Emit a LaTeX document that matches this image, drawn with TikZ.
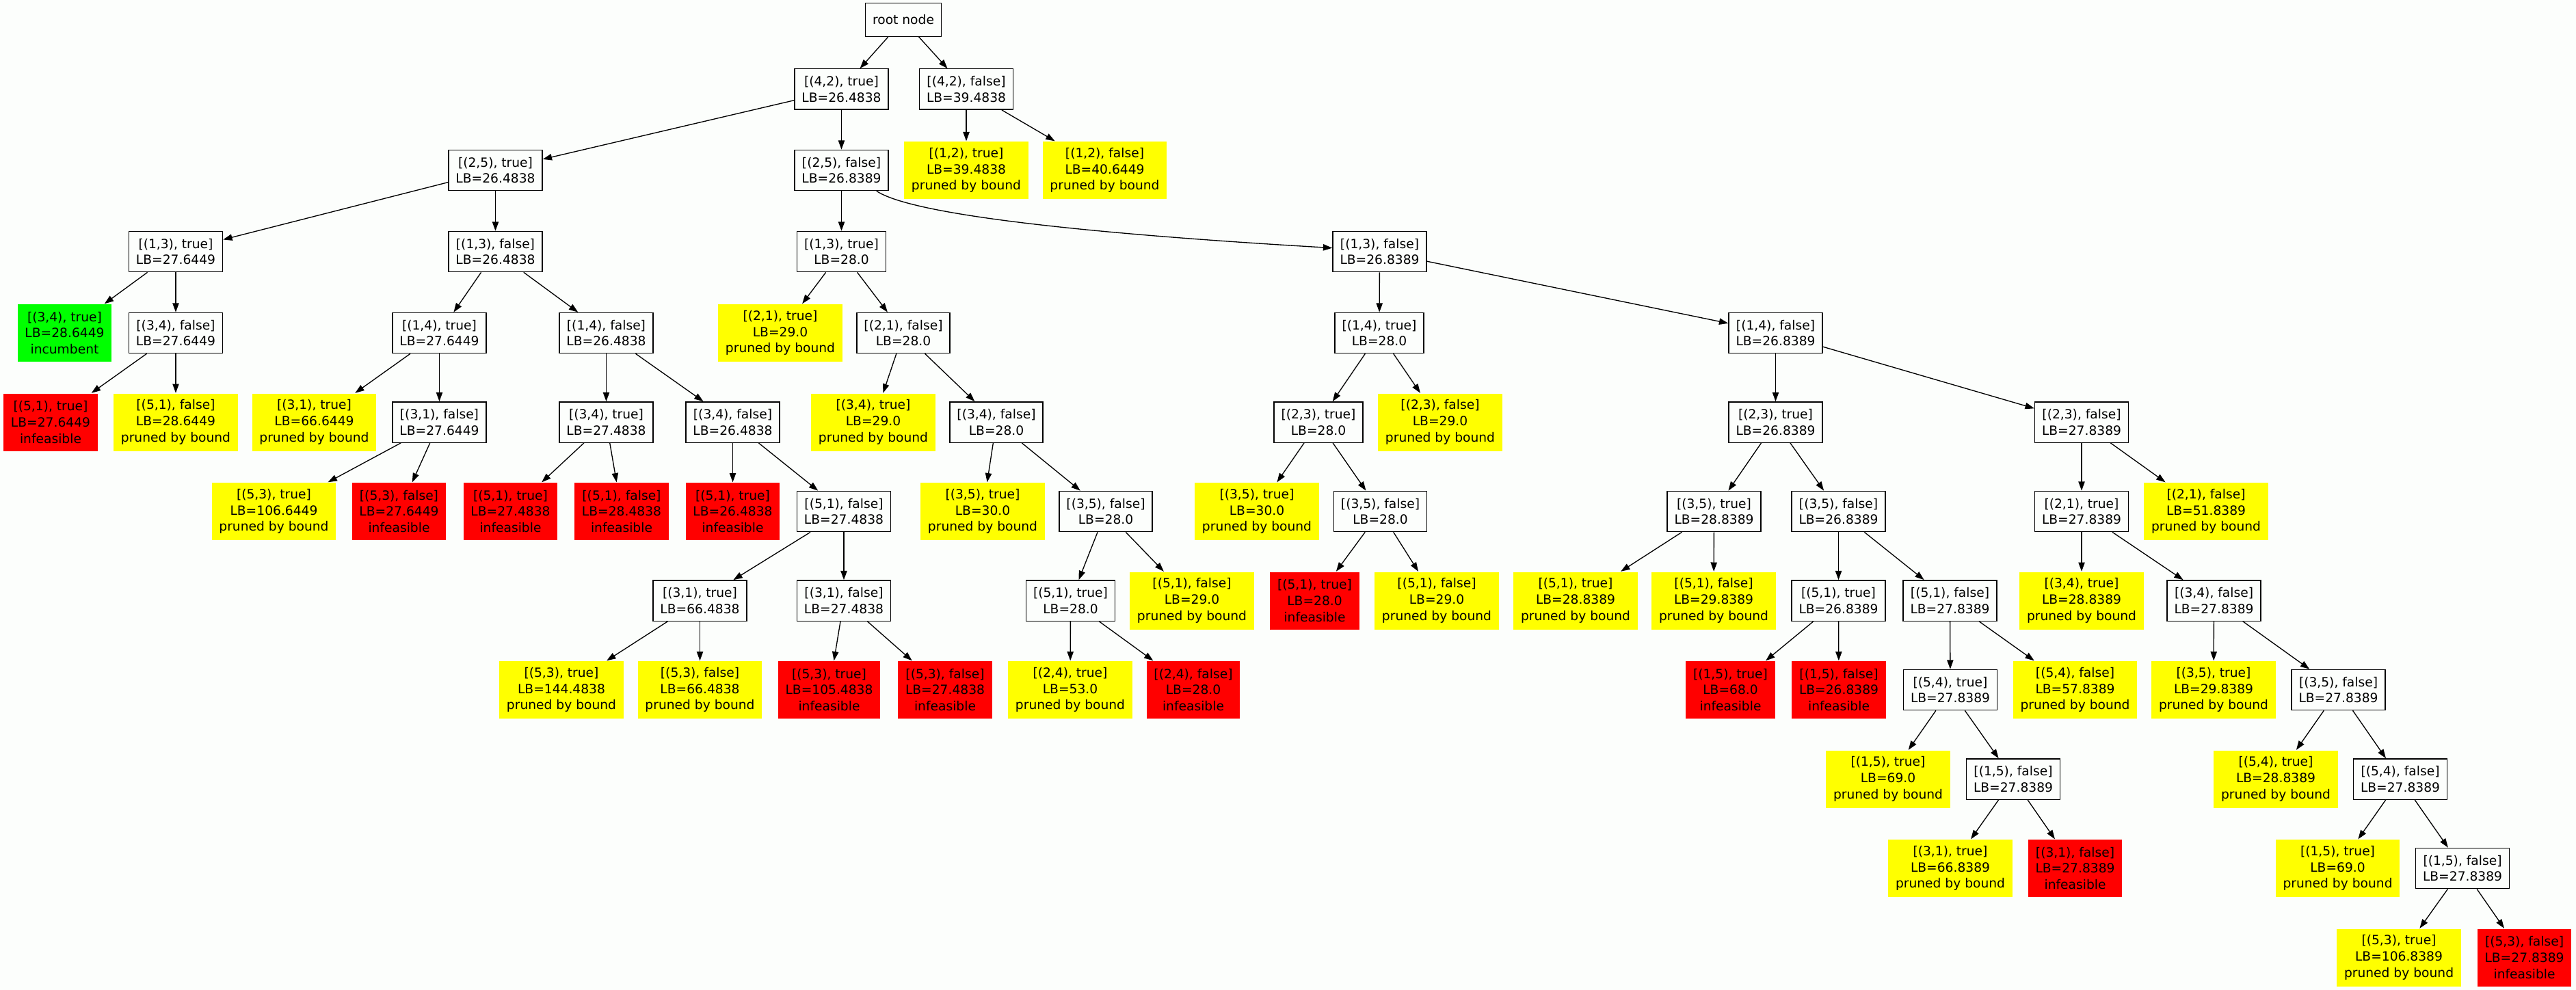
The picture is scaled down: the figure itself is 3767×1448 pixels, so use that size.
\documentclass[tikz,border=0pt]{standalone}
\usepackage{fontspec}
\setmainfont{DejaVu Sans}
\usetikzlibrary{arrows.meta}
\definecolor{paper}{RGB}{252,254,252}
\definecolor{boundcol}{RGB}{255,255,0}
\definecolor{infcol}{RGB}{255,0,0}
\definecolor{inccol}{RGB}{0,255,0}

\begin{document}
\begin{tikzpicture}[x=0.75pt,y=-0.75pt,line width=1pt,
    >={Triangle[length=10pt,width=7pt]},
    every node/.style={font=\fontsize{14}{17.8}\selectfont,align=center,
      inner xsep=7.92pt,inner ysep=2pt},
    root/.style={draw,minimum height=36.5pt},
    open/.style={draw,minimum height=44.5pt},
    leaf/.style={minimum height=63pt},
    pruned/.style={leaf,fill=boundcol},
    infeasible/.style={leaf,fill=infcol},
    incumbent/.style={leaf,fill=inccol}]
    \fill[paper] (0,0) rectangle (3767,1448);
    \useasboundingbox (0,0) rectangle (3767,1448);

    % row 0 to 3
    \node[root] (n_0)             at (1321,29)      {root node};
    \node[open] (n_1)             at (1230.5,130.5) {[(4,2), true]\\LB=26.4838};
    \node[open] (n_2)             at (1413,130.5)   {[(4,2), false]\\LB=39.4838};
    \node[open] (n_3)             at (724.5,249)    {[(2,5), true]\\LB=26.4838};
    \node[open] (n_4)             at (1230.5,249)   {[(2,5), false]\\LB=26.8389};
    \node[pruned] (n_5)           at (1413,249)     {[(1,2), true]\\LB=39.4838\\pruned by bound};
    \node[pruned] (n_6)           at (1615.5,249)   {[(1,2), false]\\LB=40.6449\\pruned by bound};
    \node[open] (n_7)             at (257,368)      {[(1,3), true]\\LB=27.6449};
    \node[open] (n_8)             at (724.5,368)    {[(1,3), false]\\LB=26.4838};
    \node[open] (n_9)             at (1230.5,368)   {[(1,3), true]\\LB=28.0};
    \node[open] (n_10)            at (2017.5,368)   {[(1,3), false]\\LB=26.8389};
    % row 4
    \node[incumbent] (n_11)       at (94.5,487)     {[(3,4), true]\\LB=28.6449\\incumbent};
    \node[open] (n_12)            at (257,487)      {[(3,4), false]\\LB=27.6449};
    \node[open] (n_13)            at (642.5,487)    {[(1,4), true]\\LB=27.6449};
    \node[open] (n_14)            at (886.5,487)    {[(1,4), false]\\LB=26.4838};
    \node[pruned] (n_15)          at (1141,487)     {[(2,1), true]\\LB=29.0\\pruned by bound};
    \node[open] (n_16)            at (1321,487)     {[(2,1), false]\\LB=28.0};
    \node[open] (n_17)            at (2017,487)     {[(1,4), true]\\LB=28.0};
    \node[open] (n_18)            at (2596.5,487)   {[(1,4), false]\\LB=26.8389};
    % row 5
    \node[infeasible] (n_19)      at (74,617.5)     {[(5,1), true]\\LB=27.6449\\infeasible};
    \node[pruned] (n_20)          at (257,617.5)    {[(5,1), false]\\LB=28.6449\\pruned by bound};
    \node[pruned] (n_21)          at (459.5,617.5)  {[(3,1), true]\\LB=66.6449\\pruned by bound};
    \node[open] (n_22)            at (642.5,617.5)  {[(3,1), false]\\LB=27.6449};
    \node[open] (n_23)            at (886.5,617.5)  {[(3,4), true]\\LB=27.4838};
    \node[open] (n_24)            at (1071.5,617.5) {[(3,4), false]\\LB=26.4838};
    \node[pruned] (n_25)          at (1277,617.5)   {[(3,4), true]\\LB=29.0\\pruned by bound};
    \node[open] (n_26)            at (1457,617.5)   {[(3,4), false]\\LB=28.0};
    \node[open] (n_27)            at (1928,617.5)   {[(2,3), true]\\LB=28.0};
    \node[pruned] (n_28)          at (2106,617.5)   {[(2,3), false]\\LB=29.0\\pruned by bound};
    \node[open] (n_29)            at (2596.5,617.5) {[(2,3), true]\\LB=26.8389};
    \node[open] (n_30)            at (3044,617.5)   {[(2,3), false]\\LB=27.8389};
    % row 6
    \node[pruned] (n_31)          at (400.5,748)    {[(5,3), true]\\LB=106.6449\\pruned by bound};
    \node[infeasible] (n_32)      at (583.5,748)    {[(5,3), false]\\LB=27.6449\\infeasible};
    \node[infeasible] (n_33)      at (746.5,748)    {[(5,1), true]\\LB=27.4838\\infeasible};
    \node[infeasible] (n_34)      at (909,748)      {[(5,1), false]\\LB=28.4838\\infeasible};
    \node[infeasible] (n_35)      at (1071.5,748)   {[(5,1), true]\\LB=26.4838\\infeasible};
    \node[open] (n_36)            at (1234,748)     {[(5,1), false]\\LB=27.4838};
    \node[pruned] (n_37)          at (1437,748)     {[(3,5), true]\\LB=30.0\\pruned by bound};
    \node[open] (n_38)            at (1617,748)     {[(3,5), false]\\LB=28.0};
    \node[pruned] (n_39)          at (1838,748)     {[(3,5), true]\\LB=30.0\\pruned by bound};
    \node[open] (n_40)            at (2018.5,748)   {[(3,5), false]\\LB=28.0};
    \node[open] (n_41)            at (2506.5,748)   {[(3,5), true]\\LB=28.8389};
    \node[open] (n_42)            at (2688.5,748)   {[(3,5), false]\\LB=26.8389};
    \node[open] (n_43)            at (3044,748)     {[(2,1), true]\\LB=27.8389};
    \node[pruned] (n_44)          at (3226,748)     {[(2,1), false]\\LB=51.8389\\pruned by bound};
    % row 7
    \node[open] (n_45)            at (1023.5,878.5) {[(3,1), true]\\LB=66.4838};
    \node[open] (n_46)            at (1234,878.5)   {[(3,1), false]\\LB=27.4838};
    \node[open] (n_47)            at (1565.5,878.5) {[(5,1), true]\\LB=28.0};
    \node[pruned] (n_48)          at (1743,878.5)   {[(5,1), false]\\LB=29.0\\pruned by bound};
    \node[infeasible] (n_49)      at (1922.5,878.5) {[(5,1), true]\\LB=28.0\\infeasible};
    \node[pruned] (n_50)          at (2101,878.5)   {[(5,1), false]\\LB=29.0\\pruned by bound};
    \node[pruned] (n_51)          at (2304,878.5)   {[(5,1), true]\\LB=28.8389\\pruned by bound};
    \node[pruned] (n_52)          at (2506,878.5)   {[(5,1), false]\\LB=29.8389\\pruned by bound};
    \node[open] (n_53)            at (2688.5,878.5) {[(5,1), true]\\LB=26.8389};
    \node[open] (n_54)            at (2851.5,878.5) {[(5,1), false]\\LB=27.8389};
    \node[pruned] (n_55)          at (3044,878.5)   {[(3,4), true]\\LB=28.8389\\pruned by bound};
    \node[open] (n_56)            at (3237.5,878.5) {[(3,4), false]\\LB=27.8389};
    % row 8
    \node[pruned] (n_57)          at (821,1009)     {[(5,3), true]\\LB=144.4838\\pruned by bound};
    \node[pruned] (n_58)          at (1023.5,1009)  {[(5,3), false]\\LB=66.4838\\pruned by bound};
    \node[infeasible] (n_59)      at (1212.5,1009)  {[(5,3), true]\\LB=105.4838\\infeasible};
    \node[infeasible] (n_60)      at (1382,1009)    {[(5,3), false]\\LB=27.4838\\infeasible};
    \node[pruned] (n_61)          at (1565,1009)    {[(2,4), true]\\LB=53.0\\pruned by bound};
    \node[infeasible] (n_62)      at (1745,1009)    {[(2,4), false]\\LB=28.0\\infeasible};
    \node[infeasible] (n_63)      at (2530.5,1009)  {[(1,5), true]\\LB=68.0\\infeasible};
    \node[infeasible] (n_64)      at (2689,1009)    {[(1,5), false]\\LB=26.8389\\infeasible};
    \node[open] (n_65)            at (2852,1009)    {[(5,4), true]\\LB=27.8389};
    \node[pruned] (n_66)          at (3034.5,1009)  {[(5,4), false]\\LB=57.8389\\pruned by bound};
    \node[pruned] (n_67)          at (3237,1009)    {[(3,5), true]\\LB=29.8389\\pruned by bound};
    \node[open] (n_68)            at (3419.5,1009)  {[(3,5), false]\\LB=27.8389};
    % row 9 to 11
    \node[pruned] (n_69)          at (2761,1139.5)  {[(1,5), true]\\LB=69.0\\pruned by bound};
    \node[open] (n_70)            at (2944,1139.5)  {[(1,5), false]\\LB=27.8389};
    \node[pruned] (n_71)          at (3328,1139.5)  {[(5,4), true]\\LB=28.8389\\pruned by bound};
    \node[open] (n_72)            at (3510,1139.5)  {[(5,4), false]\\LB=27.8389};
    \node[pruned] (n_73)          at (2852,1270)    {[(3,1), true]\\LB=66.8389\\pruned by bound};
    \node[infeasible] (n_74)      at (3034.5,1270)  {[(3,1), false]\\LB=27.8389\\infeasible};
    \node[pruned] (n_75)          at (3418.5,1270)  {[(1,5), true]\\LB=69.0\\pruned by bound};
    \node[open] (n_76)            at (3601,1270)    {[(1,5), false]\\LB=27.8389};
    \node[pruned] (n_77)          at (3508,1400.5)  {[(5,3), true]\\LB=106.8389\\pruned by bound};
    \node[infeasible] (n_78)      at (3691.5,1400.5){[(5,3), false]\\LB=27.8389\\infeasible};

    \path[->]
    (n_0) edge (n_1)
    (n_0) edge (n_2)
    (n_1) edge (n_3)
    (n_1) edge (n_4)
    (n_2) edge (n_5)
    (n_2) edge (n_6)
    (n_3) edge (n_7)
    (n_3) edge (n_8)
    (n_4) edge (n_9)
    % left part
    (n_7) edge (n_11)
    (n_7) edge (n_12)
    (n_8) edge (n_13)
    (n_8) edge (n_14)
    (n_12) edge (n_19)
    (n_12) edge (n_20)
    (n_13) edge (n_21)
    (n_13) edge (n_22)
    (n_14) edge (n_23)
    (n_14) edge (n_24)
    (n_22) edge (n_31)
    (n_22) edge (n_32)
    (n_23) edge (n_33)
    (n_23) edge (n_34)
    (n_24) edge (n_35)
    (n_24) edge (n_36)
    (n_36) edge (n_45)
    (n_36) edge (n_46)
    (n_45) edge (n_57)
    (n_45) edge (n_58)
    (n_46) edge (n_59)
    (n_46) edge (n_60)
    % middle part
    (n_9) edge (n_15)
    (n_9) edge (n_16)
    (n_16) edge (n_25)
    (n_16) edge (n_26)
    (n_26) edge (n_37)
    (n_26) edge (n_38)
    (n_38) edge (n_47)
    (n_38) edge (n_48)
    (n_47) edge (n_61)
    (n_47) edge (n_62)
    % right part
    (n_10) edge (n_17)
    (n_10) edge (n_18)
    (n_17) edge (n_27)
    (n_17) edge (n_28)
    (n_18) edge (n_29)
    (n_18) edge (n_30)
    (n_27) edge (n_39)
    (n_27) edge (n_40)
    (n_29) edge (n_41)
    (n_29) edge (n_42)
    (n_30) edge (n_43)
    (n_30) edge (n_44)
    (n_40) edge (n_49)
    (n_40) edge (n_50)
    (n_41) edge (n_51)
    (n_41) edge (n_52)
    (n_42) edge (n_53)
    (n_42) edge (n_54)
    (n_43) edge (n_55)
    (n_43) edge (n_56)
    (n_53) edge (n_63)
    (n_53) edge (n_64)
    (n_54) edge (n_65)
    (n_54) edge (n_66)
    (n_56) edge (n_67)
    (n_56) edge (n_68)
    (n_65) edge (n_69)
    (n_65) edge (n_70)
    (n_68) edge (n_71)
    (n_68) edge (n_72)
    (n_70) edge (n_73)
    (n_70) edge (n_74)
    (n_72) edge (n_75)
    (n_72) edge (n_76)
    (n_76) edge (n_77)
    (n_76) edge (n_78);
    % long curved edge
    \draw[->] ([xshift=-13.5pt]n_4.south east) .. controls (1330,312) and (1560,340) .. ([yshift=4pt]n_10.west);
\end{tikzpicture}
\end{document}
